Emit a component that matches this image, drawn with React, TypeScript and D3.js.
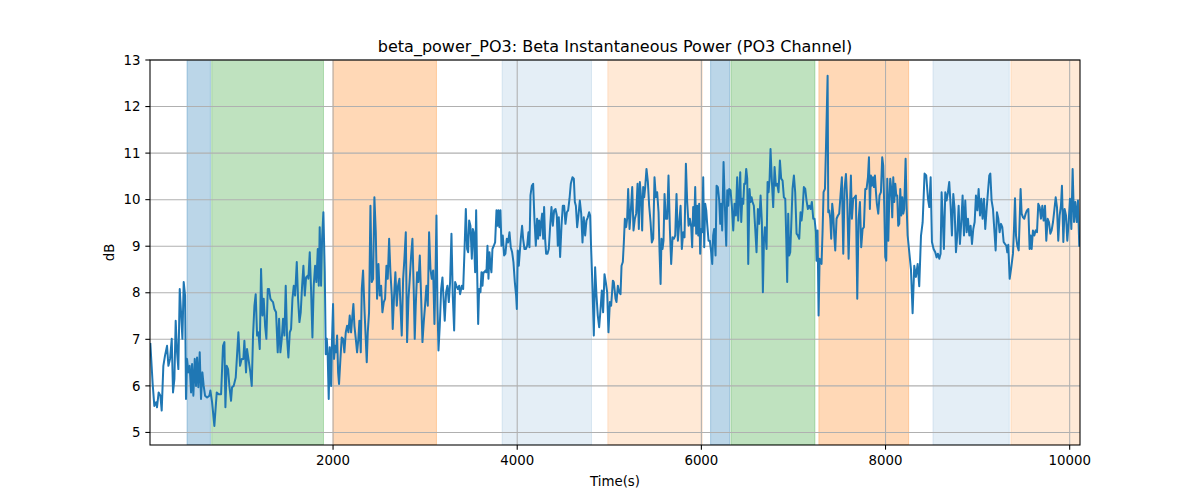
import * as d3 from 'd3';
import { useEffect } from 'react';

const TITLE = 'beta_power_PO3: Beta Instantaneous Power (PO3 Channel)';
const X_LABEL = 'Time(s)';
const Y_LABEL = 'dB';

const X_DOMAIN: [number, number] = [12, 10112];
const Y_DOMAIN: [number, number] = [4.73, 13];
const X_TICKS = [2000, 4000, 6000, 8000, 10000];
const Y_TICKS = [5, 6, 7, 8, 9, 10, 11, 12, 13];

// shaded epochs: [start, end, colour, alpha]
const SPAN_START = [414, 682, 2000, 3836, 4984, 6100, 6321, 7276, 8515, 9362];
const SPAN_END = [668, 1896, 3123, 4807, 6009, 6306, 7233, 8251, 9344, 10112];
const SPAN_COLOR = ['#1f77b4', '#2ca02c', '#ff7f0e', '#1f77b4', '#ff7f0e', '#1f77b4', '#2ca02c', '#ff7f0e', '#1f77b4', '#ff7f0e'];
const SPAN_ALPHA = [0.3, 0.3, 0.3, 0.12, 0.17, 0.3, 0.3, 0.3, 0.12, 0.17];

const timeS = [
  16, 41, 59, 78, 88, 106, 125, 139, 157, 175, 197, 212, 230, 248, 262, 277, 291, 306, 320, 335, 349, 364, 378, 393, 403,
  414, 429, 443, 458, 469, 483, 498, 512, 523, 537, 552, 566, 581, 595, 610, 632, 657, 668, 686, 711, 737, 758, 784, 805,
  820, 831, 845, 860, 874, 892, 903, 921, 943, 957, 972, 990, 1008, 1026, 1037, 1055, 1066, 1081, 1102, 1117, 1131, 1146,
  1160, 1175, 1189, 1204, 1218, 1233, 1247, 1262, 1276, 1291, 1305, 1320, 1334, 1348, 1363, 1381, 1399, 1414, 1428, 1443,
  1457, 1472, 1486, 1501, 1515, 1530, 1544, 1559, 1573, 1588, 1606, 1620, 1635, 1649, 1664, 1678, 1693, 1707, 1725,
  1732, 1747, 1761, 1776, 1790, 1805, 1819, 1834, 1845, 1855, 1870, 1881, 1895, 1910, 1921, 1932, 1942, 1953, 1964, 1979,
  1989, 2000, 2011, 2022, 2033, 2044, 2055, 2065, 2080, 2094, 2109, 2123, 2138, 2152, 2167, 2181, 2196, 2210, 2221, 2232,
  2247, 2261, 2275, 2286, 2301, 2312, 2326, 2341, 2355, 2366, 2377, 2391, 2406, 2420, 2435, 2449, 2464, 2478, 2493, 2507,
  2522, 2536, 2551, 2565, 2580, 2594, 2609, 2623, 2638, 2648, 2663, 2677, 2692, 2706, 2721, 2732, 2746, 2761, 2775, 2790,
  2804, 2819, 2833, 2848, 2862, 2876, 2887, 2898, 2913, 2927, 2942, 2956, 2971, 2985, 2999, 3014, 3029, 3043, 3058, 3072,
  3087, 3101, 3112, 3123, 3134, 3145, 3159, 3174, 3188, 3202, 3213, 3228, 3242, 3257, 3271, 3286, 3300, 3315, 3326, 3340,
  3355, 3369,
  3380, 3398, 3413, 3427, 3442, 3456, 3467, 3478, 3492, 3507, 3518, 3528, 3543, 3554, 3565, 3576, 3586, 3601, 3612, 3623,
  3633, 3644, 3655, 3666, 3677, 3688, 3699, 3710, 3720, 3731, 3746, 3760, 3775, 3786, 3796, 3807, 3818, 3829, 3843, 3858,
  3872, 3887, 3901, 3916, 3930, 3945, 3959, 3974, 3988, 3996, 4006, 4017, 4028, 4039, 4053, 4064, 4079, 4093, 4108, 4122,
  4133, 4144, 4159, 4173, 4187, 4202, 4216, 4227, 4238, 4249, 4260, 4271, 4282, 4292, 4303, 4314, 4329, 4343, 4358, 4372,
  4387, 4401, 4416, 4430, 4441, 4452, 4466, 4481, 4495, 4510, 4524, 4539, 4553, 4568, 4582, 4600, 4615, 4626, 4637, 4651,
  4665, 4680, 4695, 4709, 4723, 4738, 4752, 4767, 4781, 4792, 4803, 4818, 4832, 4846, 4861, 4875, 4890, 4904, 4919, 4933,
  4948, 4962, 4977, 4991, 5006, 5020,
  5039, 5049, 5068, 5078, 5093, 5107, 5122, 5133, 5147, 5158, 5169, 5183, 5194, 5205, 5220, 5234, 5249, 5263, 5278, 5292,
  5307, 5321, 5332, 5346, 5357, 5368, 5379, 5390, 5404, 5419, 5433, 5448, 5462, 5477, 5491, 5506, 5520, 5535, 5546, 5557,
  5567, 5578, 5589, 5600, 5614, 5629, 5643, 5658, 5672, 5687, 5701, 5716, 5730, 5745, 5759, 5774, 5788, 5803, 5817, 5832,
  5846, 5861, 5875, 5890, 5900, 5911, 5922, 5933, 5944, 5955, 5966, 5976, 5987, 5998, 6009, 6020, 6031, 6042, 6053, 6063,
  6078, 6092, 6107, 6118, 6128, 6139, 6154, 6165, 6179, 6194, 6205, 6215, 6226, 6241, 6255, 6270, 6281, 6292, 6302, 6317,
  6331, 6346, 6360, 6375, 6389, 6400, 6411, 6422, 6433, 6444, 6455, 6465, 6476, 6487, 6498, 6509, 6523, 6534, 6545, 6556,
  6570, 6585, 6599, 6614, 6628, 6643, 6657, 6668, 6680,
  6690, 6708, 6719, 6730, 6741, 6751, 6766, 6780, 6795, 6809, 6824, 6838, 6853, 6867, 6882, 6896, 6911, 6922, 6932, 6943,
  6954, 6965, 6976, 6990, 7005, 7019, 7034, 7048, 7063, 7077, 7088, 7099, 7113, 7128, 7142, 7157, 7171, 7186, 7200, 7215,
  7229, 7244, 7251, 7262, 7273, 7284, 7295, 7305, 7316, 7327, 7342, 7352, 7371, 7378, 7389, 7400, 7410, 7421, 7432, 7443,
  7454, 7468, 7483, 7497, 7512, 7526, 7541, 7555, 7570, 7584, 7599, 7613, 7624, 7635, 7649, 7664, 7678, 7693, 7707, 7722,
  7736, 7751, 7765, 7780, 7794, 7809, 7820, 7830, 7841, 7852, 7863, 7874, 7885, 7896, 7906, 7921, 7935, 7950, 7964, 7975,
  7986, 7997, 8008, 8019, 8030, 8040, 8051, 8062, 8073, 8084, 8095, 8106, 8117, 8127, 8138, 8149, 8160, 8171, 8182, 8193,
  8203, 8218, 8229, 8240, 8258, 8276, 8294, 8312, 8330, 8349, 8366, 8385, 8403, 8424, 8442, 8461, 8475, 8490, 8504,
  8522, 8540, 8555, 8569, 8584, 8598, 8609, 8620, 8634, 8649, 8663, 8678, 8692, 8707, 8721, 8736, 8750, 8765, 8779, 8794,
  8808, 8823, 8837, 8852, 8866, 8881, 8895, 8910, 8924, 8939, 8953, 8968, 8982, 8997, 9011, 9026, 9040, 9054, 9069, 9083,
  9098, 9112, 9127, 9138, 9152, 9167, 9181, 9196, 9210, 9225, 9239, 9254, 9268, 9283, 9297, 9312, 9322, 9333, 9348, 9366,
  9384, 9395, 9406, 9417, 9431, 9446, 9456, 9467, 9478, 9493, 9507, 9522, 9536, 9551, 9565, 9576, 9587, 9601, 9616, 9630,
  9645, 9659, 9674, 9688, 9703, 9717, 9732, 9746, 9761, 9775, 9790, 9804, 9819, 9833, 9848, 9862, 9876, 9891, 9905, 9916,
  9931, 9945, 9960, 9974, 9989, 10003, 10018, 10032, 10047, 10061, 10076, 10090, 10104,
];

const powerDb = [
  6.90, 6.04, 5.57, 5.65, 5.54, 5.86, 5.79, 5.47, 6.43, 6.65, 6.86, 6.43, 6.58, 7.01, 5.86, 6.15, 7.40, 6.72, 6.36, 8.08, 7.58, 7.01, 8.23, 7.94, 5.72,
  6.58, 6.29, 6.43, 5.86, 6.47, 5.79, 6.58, 6.00, 6.61, 5.97, 6.72, 5.72, 6.29, 6.00, 5.79, 5.75, 5.79, 5.90, 5.65, 5.14, 5.86, 5.82, 5.82, 6.86,
  6.94, 5.54, 6.43, 6.36, 6.00, 5.68, 5.97, 6.00, 6.18, 6.65, 7.15, 6.43, 6.58, 6.58, 6.97, 6.29, 6.79, 6.58, 6.29, 6.00, 7.08, 7.72,
  7.97, 7.08, 7.15, 6.79, 8.51, 7.51, 7.87, 7.29, 7.01, 8.08, 8.08, 7.87, 7.83, 7.80, 7.65, 7.58, 6.72, 7.44, 6.72, 7.01,
  7.44, 7.08, 8.15, 7.01, 6.61, 7.15, 7.22, 7.87, 8.15, 7.94, 8.66, 7.87, 7.37, 7.58, 8.15, 8.58, 7.94, 8.33, 8.37,
  8.30, 8.87, 8.08, 7.04, 8.15, 8.58, 8.23, 8.94, 8.15, 9.41, 8.15, 9.16, 9.73, 8.44, 6.68, 7.01, 6.65, 5.72, 6.83, 6.00,
  7.01, 7.76, 6.58, 6.86, 6.72, 7.08, 6.29, 6.04, 6.58, 7.04, 7.01, 6.72, 7.15, 7.29, 7.15, 7.51, 7.15, 7.51, 7.76, 7.29,
  7.01, 6.72, 7.01, 7.40, 6.72, 8.08, 8.48, 7.65, 7.01, 6.51, 7.15, 7.58, 9.87, 8.23, 8.30, 10.05, 9.30, 7.87, 8.62, 7.94,
  8.15, 7.58, 7.80, 7.87, 8.58, 8.30, 9.16, 8.44, 7.94, 7.22, 7.94, 8.44, 7.72, 8.15, 8.30, 7.72, 7.08, 8.30, 8.73, 9.30,
  6.94, 7.87, 8.30, 8.80, 9.16, 8.08, 7.01, 7.72, 8.44, 8.23, 8.80, 7.94, 6.94, 7.37, 7.72, 8.15, 7.72, 9.30, 8.51, 8.30,
  8.48, 7.33, 8.30, 9.66, 7.72, 6.76, 7.29, 8.08, 8.33, 7.80, 7.40, 8.01, 8.15, 7.80, 8.23, 9.27, 7.94, 7.19, 8.23, 8.15,
  8.08, 8.15,
  7.97, 8.15, 8.08, 8.87, 9.80, 8.94, 8.87, 9.55, 9.44, 8.73, 9.37, 9.30, 8.44, 9.77, 8.44, 7.33, 8.08, 8.01, 8.44, 8.15,
  8.44, 8.44, 8.48, 8.44, 9.01, 8.30, 8.87, 8.58, 8.44, 8.94, 9.01, 9.08, 9.77, 9.44, 9.77, 9.41, 9.77, 9.01, 9.23, 8.80,
  8.84, 9.16, 9.08, 9.30, 8.98, 8.87, 8.66, 8.23, 7.94, 7.65, 8.91, 8.58, 8.87, 9.16, 9.44, 9.16, 8.94, 8.94, 9.01, 9.30,
  8.98, 10.09, 10.30, 10.34, 9.59, 9.01, 9.59, 9.16, 9.55, 9.23, 9.52, 9.70, 9.16, 9.84, 9.16, 8.84, 8.84, 8.94, 9.44, 9.84,
  9.44, 9.77, 9.80, 9.66, 9.01, 9.62, 8.77, 9.44, 9.87, 9.87, 9.48, 9.73, 9.77, 10.02, 10.34, 10.48, 10.45, 9.95, 9.87, 9.41,
  9.66, 9.98, 9.70, 9.08, 9.62, 9.23, 9.55, 9.62, 9.73, 9.66, 8.94, 8.08, 7.08, 8.55, 7.94, 7.51, 7.26, 7.62, 8.05, 7.58,
  8.40, 8.23, 8.01, 7.15, 7.80, 7.72,
  8.26, 8.23, 7.87, 7.80, 8.15, 8.01, 7.97, 8.58, 8.66, 9.08, 9.59, 9.41, 9.59, 10.23, 9.37, 9.77, 10.27, 9.34, 9.59, 9.70,
  10.34, 9.37, 10.38, 10.02, 9.34, 10.27, 10.05, 10.27, 10.66, 10.38, 9.87, 9.52, 9.08, 9.16, 10.48, 10.05, 10.16, 9.73, 8.87, 8.19,
  9.16, 8.94, 9.12, 10.12, 9.59, 9.59, 10.52, 9.37, 8.62, 9.19, 9.16, 9.23, 10.12, 9.12, 9.48, 9.87, 8.94, 9.30, 9.19, 10.77,
  9.95, 9.44, 9.59, 9.41, 8.98, 9.84, 9.44, 10.27, 9.27, 9.87, 9.23, 9.91, 8.84, 9.37, 9.30, 10.48, 8.98, 9.91, 9.77, 9.48,
  9.12, 9.12, 8.87, 8.62, 9.23, 9.37, 8.80, 10.30, 10.27, 9.98, 9.48, 9.91, 9.34, 10.81, 9.87, 9.01, 10.20, 9.87, 10.23, 10.20,
  9.87, 9.34, 9.91, 9.66, 10.48, 9.55, 10.05, 10.59, 9.52, 10.02, 9.91, 10.34, 10.34, 10.66, 10.45, 8.62, 10.23, 9.95, 10.05, 9.95,
  9.87, 9.37, 8.87, 9.80, 9.48, 10.09, 9.52, 8.01, 9.16,
  9.41, 8.94, 10.38, 10.16, 10.45, 11.09, 10.38, 9.84, 10.70, 10.30, 10.34, 10.16, 10.84, 10.45, 10.41, 10.05, 10.02, 9.16, 8.23, 9.70,
  8.80, 8.87, 9.44, 10.23, 10.52, 10.16, 9.27, 9.23, 9.16, 9.73, 9.55, 9.77, 10.27, 10.23, 9.98, 9.80, 9.87, 9.80, 9.95, 9.59,
  9.59, 9.30, 8.69, 9.34, 7.51, 8.73, 8.66, 8.62, 9.30, 10.16, 10.23, 11.02, 12.66, 9.73, 9.77, 9.59, 9.16, 9.91, 9.70, 9.23,
  8.91, 9.59, 9.66, 9.70, 10.12, 10.48, 8.84, 10.23, 10.55, 9.98, 8.73, 9.80, 10.52, 9.59, 10.02, 10.05, 10.09, 7.87, 9.55, 9.95,
  8.98, 9.37, 9.41, 10.23, 10.23, 10.48, 10.91, 9.80, 10.52, 10.30, 10.48, 10.27, 10.52, 10.16, 9.91, 9.70, 10.09, 10.16, 10.91, 10.73,
  9.87, 8.77, 8.69, 10.45, 9.12, 9.95, 10.45, 10.23, 9.62, 10.48, 9.95, 10.34, 10.09, 10.09, 9.44, 9.48, 10.23, 9.66, 10.05, 9.70,
  9.80, 10.88, 9.87, 9.23, 8.87, 8.51, 7.56, 8.58, 8.34, 8.62, 8.14, 9.22, 9.51, 10.56, 10.52, 10.02, 9.84, 10.48, 9.09,
  8.94, 8.87, 8.76, 8.84, 8.73, 8.84, 10.16, 9.66, 8.94, 10.16, 9.98, 10.16, 10.38, 9.87, 9.23, 10.12, 9.80, 8.87, 9.23, 9.87,
  9.05, 9.52, 10.09, 9.23, 9.98, 9.30, 9.59, 9.23, 9.44, 9.05, 9.37, 9.52, 10.09, 9.77, 10.23, 9.66, 10.02, 9.59, 10.02, 9.37,
  9.80, 10.16, 10.52, 10.56, 9.98, 9.80, 9.37, 8.91, 9.73, 9.59, 9.30, 9.48, 9.41, 9.09, 9.05, 9.01, 8.87, 9.03, 8.30, 8.55,
  8.84, 9.37, 10.03, 9.23, 9.01, 8.91, 9.52, 10.23, 9.70, 9.62, 9.59, 9.70, 9.77, 9.80, 8.94, 9.23, 8.94, 9.34, 9.23, 9.34,
  9.30, 9.91, 9.84, 9.59, 9.87, 9.55, 9.87, 9.12, 9.59, 9.52, 9.27, 9.34, 9.52, 9.77, 10.05, 9.84, 9.12, 9.66, 9.87, 10.30,
  9.09, 9.80, 9.66, 9.12, 9.52, 10.02, 9.37, 10.66, 9.52, 9.95, 9.52, 9.98, 9.01,
];

const W = 1200;
const H = 500;
const M = { top: 60, right: 120, bottom: 55, left: 150 };
const FONT = '"DejaVu Sans", Verdana, sans-serif';

export default function App() {
  useEffect(() => {
    document.body.style.margin = '0';
  }, []);

  const x = d3.scaleLinear().domain(X_DOMAIN).range([M.left, W - M.right]);
  const y = d3.scaleLinear().domain(Y_DOMAIN).range([H - M.bottom, M.top]);

  const points = timeS.map((t, i) => [t, powerDb[i]] as [number, number]);
  const line = d3.line<[number, number]>()
    .x(d => x(d[0]))
    .y(d => y(d[1]));

  const x0 = M.left;
  const x1 = W - M.right;
  const y0 = H - M.bottom;
  const y1 = M.top;

  return (
    <svg width={W} height={H} style={{ display: 'block', background: '#fff' }} fontFamily={FONT}>
      <defs>
        <clipPath id="plot">
          <rect x={x0} y={y1} width={x1 - x0} height={y0 - y1} />
        </clipPath>
      </defs>

      {/* spans */}
      <g clipPath="url(#plot)">
        {SPAN_START.map((s, i) => (
          <rect
            key={i}
            x={x(s)}
            y={y1}
            width={x(SPAN_END[i]) - x(s)}
            height={y0 - y1}
            fill={SPAN_COLOR[i]}
            fillOpacity={SPAN_ALPHA[i]}
            stroke={SPAN_COLOR[i]}
            strokeOpacity={SPAN_ALPHA[i]}
            strokeWidth={1}
          />
        ))}
      </g>

      {/* grid */}
      <g stroke="#b0b0b0" strokeWidth={1.07}>
        {X_TICKS.map(t => (
          <line key={'gx' + t} x1={x(t)} x2={x(t)} y1={y1} y2={y0} />
        ))}
        {Y_TICKS.map(t => (
          <line key={'gy' + t} x1={x0} x2={x1} y1={y(t)} y2={y(t)} />
        ))}
      </g>

      {/* series */}
      <path
        d={line(points) || ''}
        fill="none"
        stroke="#1f77b4"
        strokeWidth={2}
        strokeLinejoin="round"
        strokeLinecap="square"
        clipPath="url(#plot)"
      />

      {/* frame */}
      <rect x={x0} y={y1} width={x1 - x0} height={y0 - y1} fill="none" stroke="#000" strokeWidth={1.07} />

      {/* x ticks */}
      {X_TICKS.map(t => (
        <g key={'xt' + t}>
          <line x1={x(t)} x2={x(t)} y1={y0} y2={y0 + 4.67} stroke="#000" strokeWidth={1.07} />
          <text x={x(t)} y={y0 + 20} textAnchor="middle" fontSize={13.33} fill="#000">{t}</text>
        </g>
      ))}

      {/* y ticks */}
      {Y_TICKS.map(t => (
        <g key={'yt' + t}>
          <line x1={x0 - 4.67} x2={x0} y1={y(t)} y2={y(t)} stroke="#000" strokeWidth={1.07} />
          <text x={x0 - 9.5} y={y(t)} dy="0.35em" textAnchor="end" fontSize={13.33} fill="#000">{t}</text>
        </g>
      ))}

      <text x={(x0 + x1) / 2} y={486} textAnchor="middle" fontSize={13.33} fill="#000">{X_LABEL}</text>
      <text
        transform={`translate(114,${(y0 + y1) / 2}) rotate(-90)`}
        textAnchor="middle"
        fontSize={13.33}
        fill="#000"
      >
        {Y_LABEL}
      </text>
      <text x={(x0 + x1) / 2} y={52} textAnchor="middle" fontSize={16} fill="#000">{TITLE}</text>
    </svg>
  );
}
